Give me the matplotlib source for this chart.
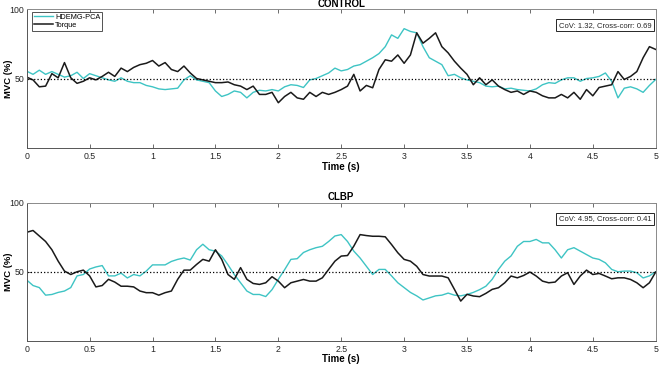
import numpy as np
import matplotlib
matplotlib.use('Agg')
import matplotlib.pyplot as plt

# 时间轴 (s), 每 0.05 s 一个读数
t = np.linspace(0, 5, 101)

# CONTROL
control_hdemg = [
    55.3, 53, 56, 53, 55, 53, 51, 52, 54.5, 50,
    53.5, 52, 50.5, 49, 48, 50.5, 48, 47, 47, 45,
    44, 42.5, 42, 42.5, 43, 49, 52, 49, 48, 47,
    41, 37, 38.5, 41, 40, 36, 40, 41.5, 41, 42,
    41, 44, 45.5, 45, 43.5, 49, 50, 52, 54, 57.5,
    55.5, 56.5, 59, 60, 62.5, 65, 68, 73, 81.5, 79,
    86, 84, 83, 73, 65, 62.5, 60, 52, 53, 50.5,
    49, 48, 47, 44.5, 44, 44.5, 42.5, 43, 42, 41.5,
    41, 42.5, 45.5, 47, 46.5, 49, 50.5, 50.5, 48, 50,
    50.5, 51.5, 54, 48, 36, 43, 44, 42.5, 40, 45,
    49.3,
]
control_torque = [
    51, 49, 44, 44.5, 53.5, 50.5, 61.5, 50.5, 46.5, 48,
    50.5, 49, 51.5, 54.5, 51.5, 57.5, 55, 58, 60, 61,
    63, 59, 61.5, 56.5, 55, 59, 54, 50, 49, 48,
    47, 47, 47.5, 45.5, 44.5, 42, 44.5, 38.5, 38.5, 40,
    32.5, 37, 40, 36, 35, 40, 37, 40, 38.5, 40,
    42, 44.5, 53, 41, 45, 43.3, 56.5, 63.5, 62.5, 67,
    61, 67, 83, 75.5, 79, 83, 73, 68.5, 62.5, 57.5,
    53, 45.5, 50.5, 45.5, 49, 44.5, 42, 40, 41, 38.5,
    41, 40, 37.5, 36, 36, 38.5, 36, 40, 35, 42,
    37.5, 43.5, 44.5, 45.5, 55, 49.3, 51.5, 55, 65, 73,
    71,
]

# CLBP
clbp_hdemg = [
    44, 40, 38.5, 33, 33.5, 35, 36, 38.5, 47, 48,
    52, 53.5, 54.5, 47, 47, 49, 45.5, 48, 47, 50.5,
    55, 55, 55, 57.5, 59, 60, 58.5, 66, 70, 66,
    65, 61.5, 55, 48, 42, 36, 33.5, 33.5, 32, 37,
    44.5, 51.5, 59, 59.5, 64, 66, 67.5, 68.5, 72, 76,
    77, 72, 65, 60, 54, 48, 51.7, 51.7, 47, 42,
    38.5, 35, 32.5, 29.5, 31, 32.5, 33, 34.5, 33, 32.5,
    33.5, 35, 37, 39.5, 44.5, 51.7, 57.7, 61.5, 68.5, 72,
    72, 73.5, 71, 71, 66, 60, 66, 67.5, 65, 62.5,
    60, 59, 56.5, 51.7, 50, 50.5, 50.5, 49.3, 45.5, 47,
    50,
]
clbp_torque = [
    78.7, 80, 76, 72, 66, 57.7, 50.5, 48, 50, 51.2,
    47, 39, 40, 44.5, 42.5, 39.5, 39.5, 39, 36, 34.8,
    34.8, 33, 34.8, 36, 44.5, 51.2, 51.2, 55.3, 59, 57.7,
    66, 59, 48, 44.5, 53, 44.5, 41.5, 40.8, 42, 46.4,
    43.2, 38.4, 42, 43.2, 44.4, 43.2, 43.2, 45.6, 51.7, 57.7,
    61.4, 61.8, 68.6, 77, 76.3, 75.8, 75.8, 75.4, 69.8, 63.8,
    59, 57.7, 54, 48, 46.9, 46.9, 46.9, 45.6, 37.2, 28.7,
    33.6, 32.4, 31.9, 34.3, 37.2, 38.4, 42, 46.9, 45.6, 47.3,
    49.8, 46.9, 43.2, 42, 42.5, 46.9, 49.3, 40.8, 46.9, 51.2,
    48, 48.8, 46.9, 44.9, 45.6, 45.6, 44.4, 42, 38.4, 42,
    49.8,
]

panels = [
    ("CONTROL", control_hdemg, control_torque, "CoV: 1.32, Cross-corr: 0.69"),
    ("CLBP", clbp_hdemg, clbp_torque, "CoV: 4.95, Cross-corr: 0.41"),
]
x_ticks = [0, 0.5, 1, 1.5, 2, 2.5, 3, 3.5, 4, 4.5, 5]
x_labels = ["0", "0.5", "1", "1.5", "2", "2.5", "3", "3.5", "4", "4.5", "5"]

plt.rcParams['font.family'] = ['Liberation Sans', 'DejaVu Sans']

fig = plt.figure(figsize=(6.6, 3.67), dpi=100)
positions = [
    [0.0405, 0.5975, 0.953, 0.3772],
    [0.0405, 0.0720, 0.953, 0.3750],
]

for pos, (title, hdemg, torque, note) in zip(positions, panels):
    ax = fig.add_axes(pos)
    ax.plot(t, hdemg, color='#3ec4c4', linewidth=1.0, label='HDEMG-PCA')
    ax.plot(t, torque, color='#1a1a1a', linewidth=1.1, label='Torque')
    ax.axhline(50, color='black', linestyle=':', linewidth=0.9)

    ax.set_xlim(0, 5)
    ax.set_ylim(0, 100)
    ax.set_xticks(x_ticks)
    ax.set_xticklabels(x_labels)
    ax.set_yticks([50, 100])
    ax.tick_params(axis='both', direction='in', top=True, right=True,
                   labelsize=6.3, length=3, width=0.6, colors='#555555',
                   labelcolor='#262626')
    ax.tick_params(axis='x', pad=3)
    ax.tick_params(axis='y', pad=2)
    for s in ax.spines.values():
        s.set_color('#8a8a8a')
        s.set_linewidth(0.7)
    ax.spines['left'].set_color('#555555')
    ax.spines['bottom'].set_color('#555555')

    ax.set_title(title, fontsize=7, fontweight='bold', pad=2)
    ax.set_xlabel('Time (s)', fontsize=7, fontweight='bold', labelpad=0.5)
    ax.set_ylabel('MVC (%)', fontsize=6.8, fontweight='bold')
    ax.yaxis.set_label_coords(-0.0225, 0.5)

    ax.text(0.993, 0.885, note, transform=ax.transAxes, ha='right', va='center',
            fontsize=5.5, color='#262626',
            bbox=dict(boxstyle='square,pad=0.35', facecolor='white',
                      edgecolor='#262626', linewidth=0.7))

    if title == "CONTROL":
        leg = ax.legend(loc='upper left', fontsize=5.3, frameon=True,
                        fancybox=False, borderpad=0.25, handlelength=2.6,
                        handletextpad=0.3, labelspacing=0.1,
                        borderaxespad=0, bbox_to_anchor=(0.008, 0.98))
        leg.get_frame().set_edgecolor('#262626')
        leg.get_frame().set_linewidth(0.7)

fig.savefig('out.png', dpi=100)
